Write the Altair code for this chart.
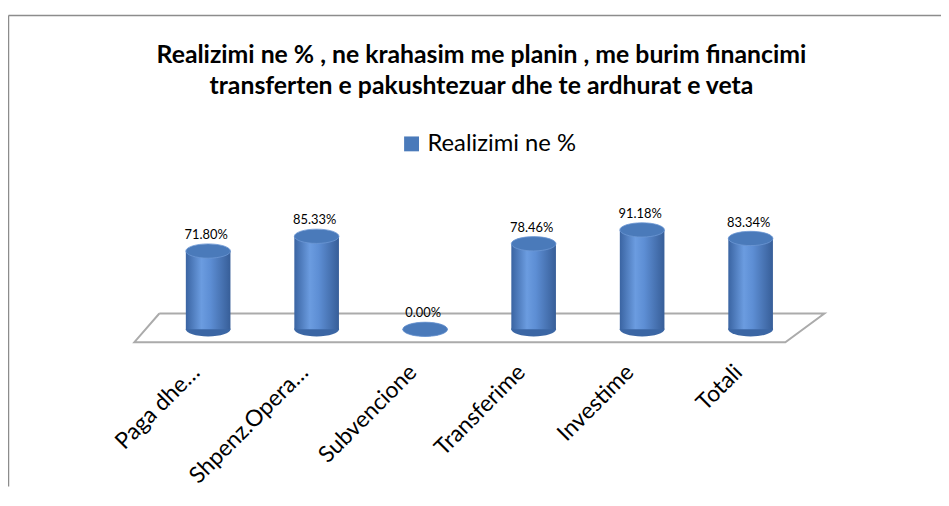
import altair as alt
import pandas as pd

# ---- data -------------------------------------------------------------
categories = ["Paga dhe…", "Shpenz.Opera…", "Subvencione", "Transferime", "Investime", "Totali"]
values = [71.80, 85.33, 0.00, 78.46, 91.18, 83.34]
series_name = "Realizimi ne %"
title_lines = [
    "Realizimi ne % , ne krahasim me planin , me burim financimi",
    "transferten e pakushtezuar dhe te ardhurat e veta",
]
# floor (3-D base plate) corners in data units: category index / percent
floor_x = [-0.45, 5.68, 5.32, -0.68, -0.45]
floor_y = [14.5, 14.5, -11.8, -11.8, 14.5]

df = pd.DataFrame({
    "idx": list(range(len(categories))),
    "cat": categories,
    "value": values,
    "series": [series_name] * len(categories),
})
floor_df = pd.DataFrame({"fx": floor_x, "fy": floor_y, "ord": list(range(len(floor_x)))})

# ---- geometry / styles ------------------------------------------------
W, H = 941, 475
x_scale = alt.Scale(domain=[-1.799, 6.709], nice=False, zero=False)
y_scale = alt.Scale(domain=[-143.6, 288.2], nice=False, zero=False)
frame_col = "#8c8c8c"
x_axis = alt.Axis(orient="top", labels=False, ticks=False, grid=False, title=None,
                  domainColor=frame_col, domainWidth=1.5)
y_axis = alt.Axis(orient="left", labels=False, ticks=False, grid=False, title=None,
                  domainColor=frame_col, domainWidth=1.5)
ELLIPSE = ("M -1 0 C -1 -0.177 -0.552 -0.32 0 -0.32 C 0.552 -0.32 1 -0.177 1 0 "
           "C 1 0.177 0.552 0.32 0 0.32 C -0.552 0.32 -1 0.177 -1 0 Z")
CYL_W = 45
FONT = "Lato"

X = alt.X("idx:Q", scale=x_scale, axis=x_axis)
base = alt.Chart(df)

floor = alt.Chart(floor_df).mark_line(color="#ababab", strokeWidth=2).encode(
    x=alt.X("fx:Q", scale=x_scale, axis=x_axis),
    y=alt.Y("fy:Q", scale=y_scale, axis=y_axis),
    order="ord:Q",
)

bottom_ell = base.mark_point(shape=ELLIPSE, size=CYL_W ** 2, filled=True, opacity=1,
                             color="#3b66a4").encode(
    x=X,
    y=alt.Y("zero:Q", scale=y_scale, axis=y_axis),
).transform_calculate(zero="0")

body = base.mark_bar(
    width=CYL_W, orient="vertical",
    color=alt.Gradient(gradient="linear", x1=0, x2=1, y1=0, y2=0,
                       stops=[alt.GradientStop(offset=0, color="#3a64a2"),
                              alt.GradientStop(offset=0.35, color="#6b9ce0"),
                              alt.GradientStop(offset=0.55, color="#5d8ed4"),
                              alt.GradientStop(offset=1, color="#375e98")]),
).encode(
    x=X,
    y=alt.Y("value:Q", scale=y_scale, axis=y_axis),
    y2=alt.Y2("zero:Q"),
).transform_calculate(zero="0")

top_ell = base.mark_point(shape=ELLIPSE, size=CYL_W ** 2, filled=True, opacity=1,
                          stroke="#6d98d4", strokeWidth=0.8).encode(
    x=X,
    y=alt.Y("value:Q", scale=y_scale, axis=y_axis),
    color=alt.Color("series:N", scale=alt.Scale(range=["#4a7aba"]),
                    legend=alt.Legend(title=None, orient="none", legendX=395, legendY=118,
                                      symbolType="square", symbolSize=225,
                                      symbolStrokeWidth=0, symbolFillColor="#4F81BD",
                                      labelFont=FONT, labelFontSize=24, labelColor="black",
                                      labelOffset=4, padding=0)),
)

val_labels = base.mark_text(baseline="middle", dy=-16, dx=-2, fontSize=13, font=FONT,
                            color="black").encode(
    x=X,
    y=alt.Y("value:Q", scale=y_scale, axis=y_axis),
    text="label:N",
).transform_calculate(label="format(datum.value, '.2f') + '%'")

cat_labels = base.mark_text(angle=315, align="right", baseline="middle", fontSize=23,
                            font=FONT, color="black").encode(
    x=alt.X("lx:Q", scale=x_scale, axis=x_axis),
    y=alt.Y("ly:Q", scale=y_scale, axis=y_axis),
    text="cat:N",
).transform_calculate(lx="datum.idx - 0.11", ly="-36.3")

chart = alt.layer(floor, bottom_ell, body, top_ell, val_labels, cat_labels).properties(
    width=W, height=H,
    title=alt.TitleParams(text=title_lines, font=FONT, fontSize=25, fontWeight="bold",
                          color="black", anchor="middle", dy=89, dx=7, lineHeight=32),
    autosize=alt.AutoSizeParams(type="none"),
    padding={"left": 0, "top": 5, "right": 0, "bottom": 0},
    background="white",
).configure_view(stroke=None)

chart.save("out.html", embed_options={"renderer": "svg", "actions": False})
